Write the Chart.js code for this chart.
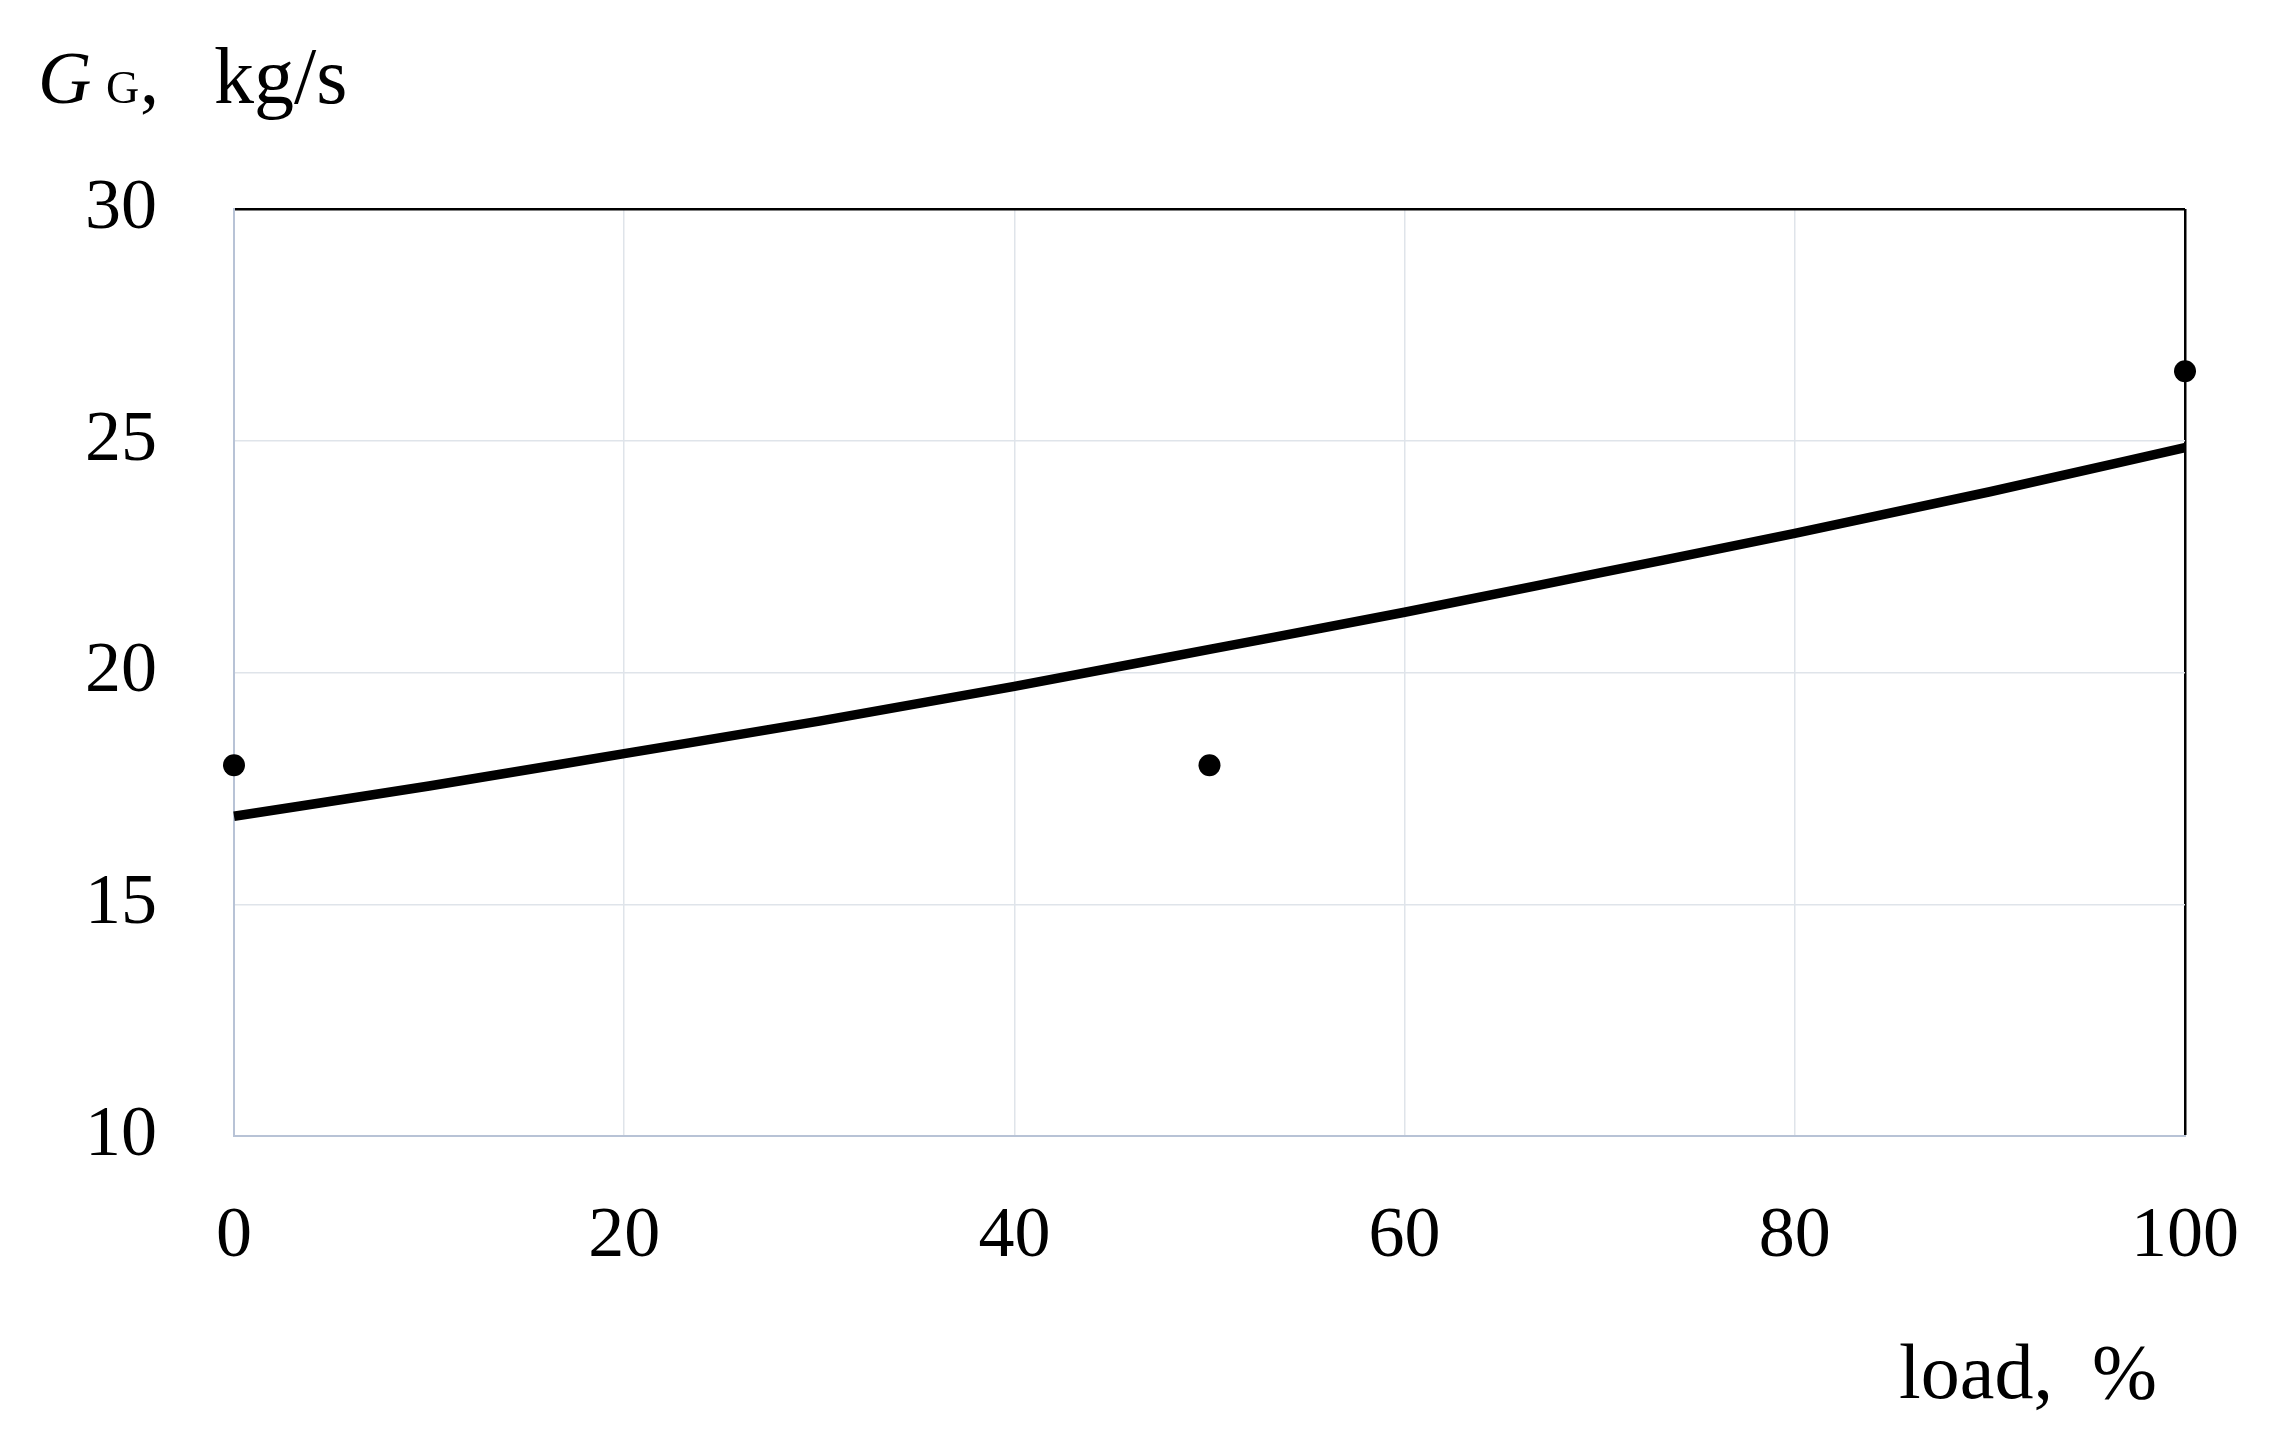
<!DOCTYPE html>
<html>
<head>
<meta charset="utf-8">
<script src="https://cdn.jsdelivr.net/npm/chart.js@4/dist/chart.umd.min.js"></script>
<style>
html,body{margin:0;padding:0;background:#fff;}
#wrap{width:2274px;height:1452px;position:relative;}
</style>
</head>
<body>
<div id="wrap"><canvas id="c" width="2274" height="1452"></canvas></div>
<script>
// ---- data ----
const trendLoad = [0, 10, 20, 30, 40, 50, 60, 70, 80, 90, 100];
const trendValues = [16.9, 17.55, 18.25, 18.95, 19.7, 20.5, 21.3, 22.15, 23.0, 23.9, 24.85];
const measuredLoad = [0, 50, 100];
const measuredValues = [18, 18, 26.5];
const xTicks = [0, 20, 40, 60, 80, 100];
const yTicks = [10, 15, 20, 25, 30];
const yTitleMain = "G";
const yTitleSub = "G";
const yTitleComma = ",";
const yTitleUnit = "kg/s";
const xTitle = "load,  %";

const FONT = "'Liberation Serif', 'DejaVu Serif', serif";
const AXIS_BLUE = '#b8c3d6';
const GRID = '#dfe4ea';

const trendPoints = trendLoad.map((x, i) => ({x: x, y: trendValues[i]}));
const measuredPoints = measuredLoad.map((x, i) => ({x: x, y: measuredValues[i]}));

const titlesPlugin = {
  id: 'titles',
  afterDraw(chart) {
    const ctx = chart.ctx;
    ctx.save();
    ctx.fillStyle = '#000';
    ctx.textBaseline = 'alphabetic';
    ctx.textAlign = 'left';
    // y-axis title
    ctx.font = "italic 74px " + FONT;
    ctx.fillText(yTitleMain, 38, 103);
    ctx.font = "46px " + FONT;
    ctx.fillText(yTitleSub, 106, 103);
    ctx.font = "76px " + FONT;
    ctx.fillText(yTitleComma, 140, 103);
    ctx.font = "80px " + FONT;
    ctx.fillText(yTitleUnit, 214, 103);
    // x-axis title
    ctx.textAlign = 'center';
    ctx.font = "78px " + FONT;
    ctx.fillText(xTitle, 2028, 1398);
    ctx.restore();
  }
};

new Chart(document.getElementById('c'), {
  type: 'scatter',
  data: {
    datasets: [
      {
        label: 'trend',
        data: trendPoints,
        showLine: true,
        borderColor: '#000',
        borderWidth: 9.5,
        pointRadius: 0,
        cubicInterpolationMode: 'monotone',
        fill: false,
        clip: false,
        order: 2
      },
      {
        label: 'measured',
        data: measuredPoints,
        showLine: false,
        backgroundColor: '#000',
        borderColor: '#000',
        pointRadius: 11,
        pointBorderWidth: 0,
        clip: false,
        order: 1
      }
    ]
  },
  options: {
    responsive: false,
    animation: false,
    devicePixelRatio: 1,
    layout: { padding: { left: 0, top: 209, right: 89, bottom: 0 } },
    plugins: {
      legend: { display: false },
      tooltip: { enabled: false }
    },
    scales: {
      x: {
        type: 'linear',
        min: 0, max: 100,
        afterBuildTicks: (s) => { s.ticks = xTicks.map(v => ({value: v})); },
        afterFit: (s) => { s.height = 316; s.paddingLeft = 0; s.paddingRight = 0; },
        ticks: {
          color: '#000',
          font: { family: FONT, size: 72 },
          padding: 58,
          maxRotation: 0
        },
        grid: {
          drawTicks: false,
          color: (c) => c.tick && c.tick.value === 100 ? '#000' : (c.tick && c.tick.value === 0 ? AXIS_BLUE : GRID),
          lineWidth: (c) => c.tick && c.tick.value === 100 ? 2.5 : (c.tick && c.tick.value === 0 ? 2 : 1.5)
        },
        border: { display: true, color: AXIS_BLUE, width: 2 }
      },
      y: {
        type: 'linear',
        min: 10, max: 30,
        afterBuildTicks: (s) => { s.ticks = yTicks.map(v => ({value: v})); },
        afterFit: (s) => { s.width = 234; s.paddingTop = 0; s.paddingBottom = 0; },
        ticks: {
          color: '#000',
          font: { family: FONT, size: 72 },
          padding: 77
        },
        grid: {
          drawTicks: false,
          color: (c) => c.tick && c.tick.value === 30 ? '#000' : (c.tick && c.tick.value === 10 ? AXIS_BLUE : GRID),
          lineWidth: (c) => c.tick && c.tick.value === 30 ? 2.5 : (c.tick && c.tick.value === 10 ? 2 : 1.5)
        },
        border: { display: true, color: AXIS_BLUE, width: 2 }
      }
    }
  },
  plugins: [titlesPlugin]
});
</script>
</body>
</html>
